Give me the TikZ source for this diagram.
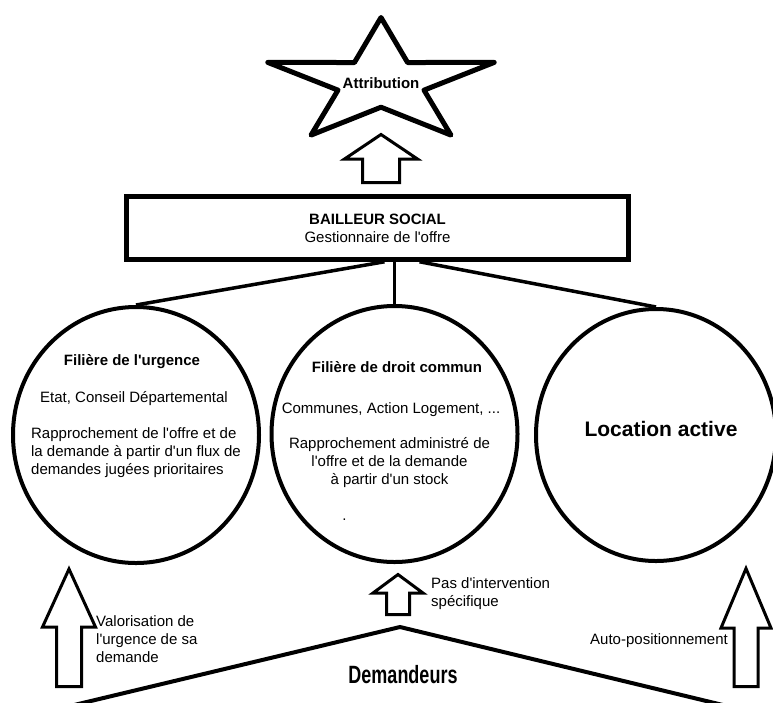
\documentclass[tikz,border=0pt]{standalone}
\usepackage{fontspec}
\setmainfont{Liberation Sans}[Ligatures=TeXOff]
\usetikzlibrary{shapes.geometric}

\begin{document}
\begin{tikzpicture}[x=1pt,y=1pt,font=\fontsize{15}{18}\selectfont,
    contour/.style={draw,line width=5pt,line join=round},
    bloc/.style={draw,line width=4.5pt,minimum width=502pt,minimum height=63pt,align=center,inner sep=0pt},
    filiere/.style={draw,ellipse,line width=4pt,minimum width=246pt,minimum height=256pt,inner sep=0pt},
    fleche/.style={draw,line width=3pt,line join=miter,fill=white},
    lien/.style={line width=3.5pt},
    titre/.style={font=\fontsize{15}{18}\selectfont\bfseries},
    texte/.style={inner sep=0pt}]
  \useasboundingbox (0,0) rectangle (773,-702);

  % etoile
  \node[titre] (attribution) at (381,-83) {Attribution};
  \begin{scope}[shift={(381,-82.5)},x=119pt,y=65pt]
    \draw[contour] (90:1) -- (126:0.38) -- (162:1) -- (198:0.38) -- (234:1) -- (270:0.38)
      -- (306:1) -- (342:0.38) -- (18:1) -- (54:0.38) -- cycle;
  \end{scope}
  \draw[fleche] (381,-134.5) -- (417.5,-159) -- (399.5,-159) -- (399.5,-182.5)
    -- (362.5,-182.5) -- (362.5,-159) -- (344.5,-159) -- cycle;

  \node[bloc] (bailleur) at (377.5,-228) {\textbf{BAILLEUR SOCIAL}\\Gestionnaire de l'offre};

  \node[filiere] (urgence) at (136,-435) {};
  \node[filiere] (droit)   at (394.5,-434) {};
  \node[filiere,minimum width=240pt,minimum height=252pt] (active) at (656,-435) {};

  \coordinate (pivot) at (bailleur.south -| droit.north);
  \draw[lien] (pivot) -- (droit.north);
  \draw[lien] ([xshift=-10pt]pivot) -- (urgence.north);
  \draw[lien] ([xshift=25pt]pivot) -- (active.north);

  \node[titre] (urgtitre) at ([shift={(-4,73)}]urgence.center) {Filière de l'urgence};
  \node (urgacteurs) at ([shift={(-2,36)}]urgence.center) {Etat, Conseil Départemental};
  \node[align=left] (urgtexte) at ([shift={(0,-18)}]urgence.center)
    {Rapprochement de l'offre et de\\la demande à partir d'un flux de\\demandes jugées prioritaires};

  \node[titre] (droittitre) at ([shift={(2.5,67)}]droit.center) {Filière de droit commun};
  \node (droitacteurs) at ([shift={(-3.5,24)}]droit.center) {Communes, Action Logement, ...};
  \node[align=center] (droittexte) at ([shift={(-5,-29)}]droit.center)
    {Rapprochement administré de\\l'offre et de la demande\\à partir d'un stock};
  \node[texte] (point) at ([shift={(-50,-86)}]droit.center) {.};

  \node[font=\fontsize{21}{25}\selectfont\bfseries] (location) at ([shift={(5,6)}]active.center) {Location active};

  % demandeurs
  \coordinate (sommet) at (400,-627);
  \draw[lien,line width=4pt] (70,-706) -- (sommet) -- (727,-706);
  \node[font=\fontsize{25}{30}\selectfont\bfseries,xscale=0.72] (demandeurs) at (403,-675) {Demandeurs};

  \draw[fleche] (69,-569) -- (95.5,-627) -- (81.5,-627) -- (81.5,-686.5)
    -- (56.5,-686.5) -- (56.5,-627) -- (42.5,-627) -- cycle;
  \draw[fleche] (398,-574.5) -- (423,-593) -- (409.5,-593) -- (409.5,-614.5)
    -- (386.5,-614.5) -- (386.5,-593) -- (373,-593) -- cycle;
  \draw[fleche] (746,-568.5) -- (771,-628) -- (758,-628) -- (758,-686.5)
    -- (734,-686.5) -- (734,-628) -- (721,-628) -- cycle;

  \node[texte,anchor=west,align=left] (valorisation) at (96,-639) {Valorisation de\\l'urgence de sa\\demande};
  \node[texte,anchor=west,align=left] (intervention) at (431,-594) {Pas d'intervention\\spécifique};
  \node[texte,anchor=east] (auto) at (728,-641) {Auto-positionnement};
\end{tikzpicture}
\end{document}
